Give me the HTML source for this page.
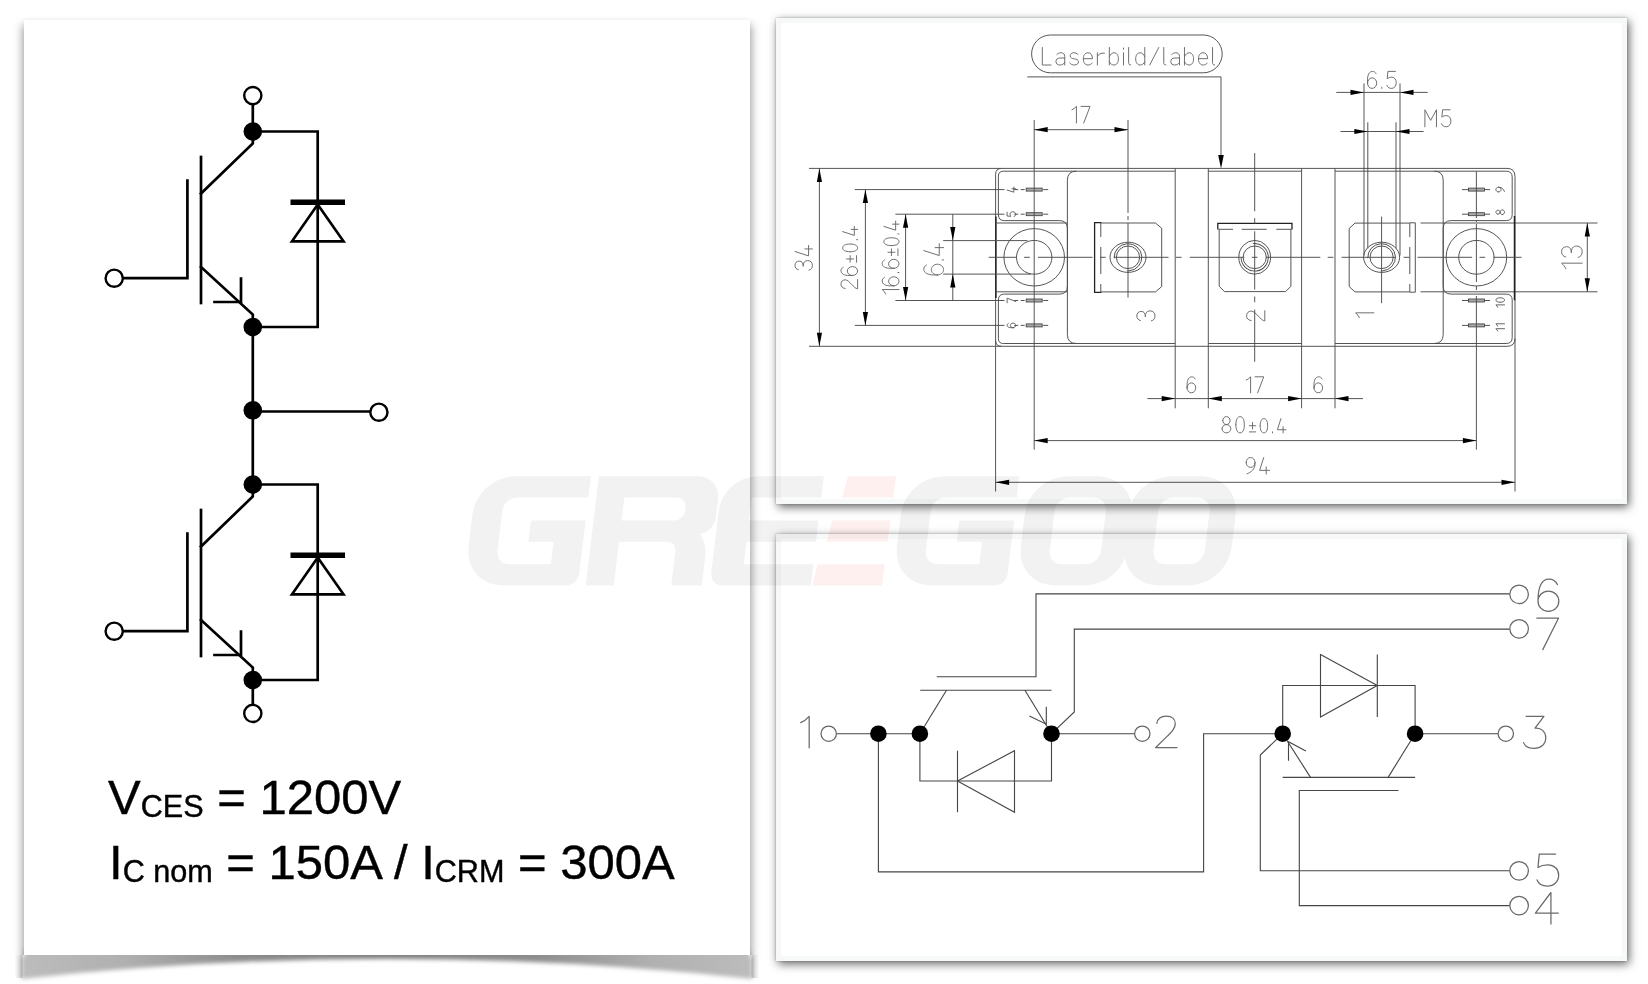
<!DOCTYPE html>
<html><head><meta charset="utf-8"><title>IGBT module</title>
<style>
html,body{margin:0;padding:0;background:#fff;}
body{width:1648px;height:984px;position:relative;overflow:hidden;font-family:"Liberation Sans",sans-serif;}
.p{position:absolute;background:#fff;box-sizing:border-box;}
#p1{left:24px;top:20px;width:726px;height:935px;box-shadow:0 6px 9px 1px rgba(0,0,0,.42);clip-path:inset(-3px -14px 0 -14px);}
#p2{left:776px;top:18px;width:851px;height:486px;border:5px solid #f7f8f8;box-shadow:2px 3px 9px rgba(0,0,0,.6),0 0 2px rgba(0,0,0,.25);}
#p3{left:776px;top:534px;width:851px;height:427px;border:5px solid #f7f8f8;box-shadow:2px 3px 9px rgba(0,0,0,.6),0 0 2px rgba(0,0,0,.25);}
svg{position:absolute;left:0;top:0;}
.k{fill:none;stroke:#000;stroke-width:2.7;stroke-linecap:square;stroke-linejoin:miter;}
.kb{fill:none;stroke:#000;stroke-width:5.6;stroke-linecap:butt;}
.ko{fill:#fff;stroke:#000;stroke-width:2.4;}
.dot{fill:#000;stroke:none;}
.l{fill:none;stroke:#4c4c4c;stroke-width:.95;}
.ld{fill:none;stroke:#222;stroke-width:1.5;}
.t{fill:none;stroke:#6c6c6c;stroke-width:.98;stroke-linecap:round;stroke-linejoin:round;}
.tb{fill:none;stroke:#6a6a6a;stroke-width:1.25;stroke-linecap:round;stroke-linejoin:round;}
.ts{fill:none;stroke:#555;stroke-width:.9;stroke-linecap:round;stroke-linejoin:round;}
.ah{fill:#000;stroke:none;}
.c{fill:none;stroke:#464646;stroke-width:1.12;}
.ct{fill:#fff;stroke:#666;stroke-width:1.25;}
.cd{fill:#000;stroke:none;}
.tx{position:absolute;color:#000;white-space:nowrap;line-height:1;-webkit-text-stroke:.42px #000;will-change:transform;}
.tx sub{vertical-align:baseline;position:relative;top:2.5px;font-size:30.6px;}
</style></head><body>
<svg width="1648" height="984" viewBox="0 0 1648 984">
<defs>
<filter id="b1" x="-5%" y="-50%" width="110%" height="200%"><feGaussianBlur stdDeviation="2"/></filter>
<linearGradient id="g1" x1="0" y1="0" x2="1" y2="0"><stop offset="0" stop-color="#bcbcbc"/><stop offset=".14" stop-color="#b0b0b0"/><stop offset=".3" stop-color="#8c8c8c"/><stop offset=".5" stop-color="#7c7c7c"/><stop offset=".7" stop-color="#8c8c8c"/><stop offset=".86" stop-color="#b0b0b0"/><stop offset="1" stop-color="#bcbcbc"/></linearGradient>
<linearGradient id="g2" x1="0" y1="0" x2="1" y2="0"><stop offset="0" stop-color="#000" stop-opacity="0"/><stop offset="1" stop-color="#000" stop-opacity=".2"/></linearGradient>
<linearGradient id="g3" x1="0" y1="0" x2="1" y2="0"><stop offset="0" stop-color="#000" stop-opacity=".2"/><stop offset="1" stop-color="#000" stop-opacity="0"/></linearGradient>
</defs>
<path d="M24.5,950 H749.5 V956.5 H752.5 V979 Q387,938.5 21.5,979 V956.5 H24.5 Z" fill="url(#g1)" filter="url(#b1)"/>
<rect x="14.5" y="955" width="8" height="23" fill="url(#g2)"/><rect x="751.5" y="955" width="8" height="23" fill="url(#g3)"/>
</svg>
<div class="p" id="p1"></div>
<div class="p" id="p2"></div>
<div class="p" id="p3"></div>
<div class="tx" style="left:108.3px;top:773px;font-size:49px;">V<sub>CES</sub> = 1200V</div>
<div class="tx" style="left:108.6px;top:837.6px;font-size:49px;">I<sub>C nom</sub> = 150A / I<sub>CRM</sub> = 300A</div>
<svg width="1648" height="984" viewBox="0 0 1648 984">
<g id="left">
<circle class="dot" cx="252.8" cy="131.5" r="9.3"/>
<path class="k" d="M252.8,131.5 H317.7 V327 H252.8"/>
<path class="kb" d="M290.5,202.3 H345"/>
<path class="k" d="M317.7,204.5 L343.5,241.3 H292 Z"/>
<path class="k" d="M201,157L201,303"/>
<path class="k" d="M187.4,180.5 V278.2 H123"/>
<circle class="ko" cx="114.2" cy="278.2" r="8.6"/>
<path class="k" d="M201,193.5 L252.8,143.5 V131.5"/>
<path class="k" d="M201,267 L252.8,314.5 V327"/>
<path class="k" d="M214.5,302 H241 V278.5"/>
<circle class="dot" cx="252.8" cy="327" r="9.3"/>
<circle class="dot" cx="252.8" cy="484.5" r="9.3"/>
<path class="k" d="M252.8,484.5 H317.7 V680 H252.8"/>
<path class="kb" d="M290.5,555.3 H345"/>
<path class="k" d="M317.7,557.5 L343.5,594.3 H292 Z"/>
<path class="k" d="M201,510L201,656"/>
<path class="k" d="M187.4,533.5 V631.2 H123"/>
<circle class="ko" cx="114.2" cy="631.2" r="8.6"/>
<path class="k" d="M201,546.5 L252.8,496.5 V484.5"/>
<path class="k" d="M201,620 L252.8,667.5 V680"/>
<path class="k" d="M214.5,655 H241 V631.5"/>
<circle class="dot" cx="252.8" cy="680" r="9.3"/>
<path class="k" d="M252.8,104L252.8,131.5"/>
<circle class="ko" cx="252.8" cy="95.6" r="8.6"/>
<path class="k" d="M252.8,327L252.8,484.5"/>
<circle class="dot" cx="252.8" cy="410.3" r="9.3"/>
<path class="k" d="M252.8,411.5L370,411.5"/>
<circle class="ko" cx="378.9" cy="412.2" r="8.6"/>
<path class="k" d="M252.8,680L252.8,705"/>
<circle class="ko" cx="252.8" cy="713.4" r="8.6"/>
</g>
<g id="tr">
<path class="l" d="M1001.6,168.4 H1507 Q1515,168.4 1515,176.4 V338.3 Q1515,346.3 1507,346.3 H1001.6 Q995.6,346.3 995.6,340.3 V174.4 Q995.6,168.4 1001.6,168.4 Z"/>
<path class="ld" d="M995.9,216.5L995.9,298"/>
<path class="l" d="M1175.2,171.2 H1003.4 Q998.4,171.2 998.4,176.2 V214.6 Q998.4,220.6 1004.4,220.6 H1059.4 Q1067.4,220.6 1067.4,228.6 V286.1 Q1067.4,294.1 1059.4,294.1 H1004.4 Q998.4,294.1 998.4,300.1 V338.5 Q998.4,343.5 1003.4,343.5 H1175.2"/>
<path class="l" d="M995.6,223L1067.4,223"/>
<path class="l" d="M995.6,291.8L1067.4,291.8"/>
<path class="l" d="M1076.4,171.2 Q1067.4,171.2 1067.4,180.2 V334.5 Q1067.4,343.5 1076.4,343.5"/>
<path class="l" d="M1335,171.2 H1506.2 Q1512.2,171.2 1512.2,177.2 V214.6 Q1512.2,220.6 1506.2,220.6 H1451.2 Q1443.2,220.6 1443.2,228.6 V286.1 Q1443.2,294.1 1451.2,294.1 H1506.2 Q1512.2,294.1 1512.2,300.1 V337.5 Q1512.2,343.5 1506.2,343.5 H1335"/>
<path class="l" d="M1420.5,223L1597.5,223"/>
<path class="l" d="M1420.5,291.8L1597.5,291.8"/>
<path class="ld" d="M1514.5,216L1514.5,300.3"/>
<path class="l" d="M1434.2,171.2 Q1443.2,171.2 1443.2,180.2 V334.5 Q1443.2,343.5 1434.2,343.5"/>
<path class="l" d="M1208.3,171.2L1301.6,171.2"/>
<path class="l" d="M1208.3,343.5L1301.6,343.5"/>
<path class="l" d="M1175.2,168.4L1175.2,408.3"/>
<path class="l" d="M1208.3,168.4L1208.3,408.3"/>
<path class="l" d="M1301.6,168.4L1301.6,408.3"/>
<path class="l" d="M1335,168.4L1335,408.3"/>
<ellipse class="l" cx="1034.2" cy="257.3" rx="30.3" ry="28.7"/>
<ellipse class="l" cx="1034.2" cy="257.3" rx="17.7" ry="16.9"/>
<ellipse class="l" cx="1476.4" cy="257.3" rx="30.3" ry="28.7"/>
<ellipse class="l" cx="1476.4" cy="257.3" rx="17.7" ry="16.9"/>
<path class="l" d="M1020.7,189.6L1024.7,189.6"/>
<path class="l" d="M1043.2,189.6L1048.2,189.6"/>
<path class="l" d="M1014.2,189.6L1018.2,189.6"/>
<rect x="1026.2" y="188.1" width="16" height="3" fill="#aaa" stroke="#3a3a3a" stroke-width=".8"/>
<path class="ts" d="M1007.1,190.03L1013.81,192.18L1013.81,187.02M1012,188.74L1015.7,188.74"/>
<path class="l" d="M1020.7,214.2L1024.7,214.2"/>
<path class="l" d="M1043.2,214.2L1048.2,214.2"/>
<path class="l" d="M1014.2,214.2L1018.2,214.2"/>
<rect x="1026.2" y="212.7" width="16" height="3" fill="#aaa" stroke="#3a3a3a" stroke-width=".8"/>
<path class="ts" d="M1007.1,212.22L1007.1,216.01L1010.8,216.35C1010.28,215.66 1010.02,214.97 1010.02,214.11C1010.02,212.74 1011.14,211.79 1012.78,211.79C1014.5,211.79 1015.7,212.74 1015.7,214.2C1015.7,215.4 1015.1,216.26 1014.15,216.52"/>
<path class="l" d="M1020.7,300.5L1024.7,300.5"/>
<path class="l" d="M1043.2,300.5L1048.2,300.5"/>
<path class="l" d="M1014.2,300.5L1018.2,300.5"/>
<rect x="1026.2" y="299" width="16" height="3" fill="#aaa" stroke="#3a3a3a" stroke-width=".8"/>
<path class="ts" d="M1007.1,302.82L1007.1,298.18L1015.7,301.45"/>
<path class="l" d="M1020.7,325.4L1024.7,325.4"/>
<path class="l" d="M1043.2,325.4L1048.2,325.4"/>
<path class="l" d="M1014.2,325.4L1018.2,325.4"/>
<rect x="1026.2" y="323.9" width="16" height="3" fill="#aaa" stroke="#3a3a3a" stroke-width=".8"/>
<path class="ts" d="M1008.22,323.42C1007.44,323.85 1007.1,324.45 1007.1,325.23C1007.1,326.86 1008.82,327.72 1011.4,327.72L1013.21,327.72M1013.03,327.72C1011.56,327.72 1010.37,326.68 1010.37,325.4C1010.37,324.12 1011.56,323.08 1013.03,323.08C1014.51,323.08 1015.7,324.12 1015.7,325.4C1015.7,326.68 1014.51,327.72 1013.03,327.72"/>
<path class="l" d="M1462,189.6L1490,189.6"/>
<rect x="1468.4" y="188.1" width="16" height="3" fill="#aaa" stroke="#3a3a3a" stroke-width=".8"/>
<path class="ts" d="M1504.41,191.41C1503.64,189.34 1501.92,187.28 1499.34,187.28L1498.48,187.28M1498.48,191.92C1497.06,191.92 1495.9,190.88 1495.9,189.6C1495.9,188.32 1497.06,187.28 1498.48,187.28C1499.9,187.28 1501.06,188.32 1501.06,189.6C1501.06,190.88 1499.9,191.92 1498.48,191.92"/>
<path class="l" d="M1462,214.2L1490,214.2"/>
<rect x="1468.4" y="212.7" width="16" height="3" fill="#aaa" stroke="#3a3a3a" stroke-width=".8"/>
<path class="ts" d="M1498.01,214.13C1496.84,214.13 1495.9,213.27 1495.9,212.2C1495.9,211.13 1496.84,210.26 1498.01,210.26C1499.17,210.26 1500.11,211.13 1500.11,212.2C1500.11,213.27 1499.17,214.13 1498.01,214.13M1502.31,214.52C1501.1,214.52 1500.11,213.48 1500.11,212.2C1500.11,210.92 1501.1,209.88 1502.31,209.88C1503.52,209.88 1504.5,210.92 1504.5,212.2C1504.5,213.48 1503.52,214.52 1502.31,214.52"/>
<path class="l" d="M1462,300.5L1490,300.5"/>
<rect x="1468.4" y="299" width="16" height="3" fill="#aaa" stroke="#3a3a3a" stroke-width=".8"/>
<path class="ts" d="M1497.71,307.19C1497.28,306.33 1496.59,305.47 1495.9,304.87L1504.5,304.87M1500.2,302.29C1497.19,302.29 1495.9,301.25 1495.9,300.05C1495.9,298.85 1497.19,297.81 1500.2,297.81C1503.21,297.81 1504.5,298.85 1504.5,300.05C1504.5,301.25 1503.21,302.29 1500.2,302.29"/>
<path class="l" d="M1462,325.4L1490,325.4"/>
<rect x="1468.4" y="323.9" width="16" height="3" fill="#aaa" stroke="#3a3a3a" stroke-width=".8"/>
<path class="ts" d="M1497.71,331.01C1497.28,330.15 1496.59,329.29 1495.9,328.69L1504.5,328.69M1497.71,326.11C1497.28,325.25 1496.59,324.39 1495.9,323.79L1504.5,323.79"/>
<path class="l" d="M1101.2,223 H1155.5 L1161.7,228.3 V286.6 L1155.5,291.9 H1101.2"/>
<path class="ld" d="M1101.4,222.6 H1094.6 V292.4 H1101.4" style="stroke-width:1.3"/>
<path class="l" d="M1100.8,223L1100.8,292" stroke-dasharray="14 10 27 10 14"/>
<ellipse class="l" cx="1128" cy="257.3" rx="18" ry="15.1"/>
<ellipse class="l" cx="1128" cy="257.3" rx="13.8" ry="13.6" stroke-dasharray="66 20.4" transform="rotate(176 1128 257.3)"/>
<ellipse class="l" cx="1128" cy="257.3" rx="11.6" ry="11.3"/>
<path class="l" d="M1219.2,229.3 V286.3 L1224.5,291.6 H1285.6 L1290.9,286.3 V229.3"/>
<path class="ld" d="M1217.8,229.6 V223.3 H1292 V229.6" style="stroke-width:1.3"/>
<path class="l" d="M1218.5,229.3L1291.5,229.3" stroke-dasharray="14.5 8.7 25 9.6 15.2"/>
<ellipse class="l" cx="1254.7" cy="257.3" rx="15.9" ry="16.9"/>
<ellipse class="l" cx="1254.7" cy="257.3" rx="13.8" ry="13.6" stroke-dasharray="66 20.4" transform="rotate(262 1254.7 257.3)"/>
<ellipse class="l" cx="1254.7" cy="257.3" rx="11.6" ry="11.3"/>
<path class="l" d="M1409.6,223.1 H1355 L1349.2,228.4 V286.6 L1355,291.9 H1409.6"/>
<path class="l" d="M1409.6,222.8 H1415.3 V292.2 H1409.6"/>
<path class="l" d="M1409.8,223L1409.8,292" stroke-dasharray="14 10 27 10 14"/>
<ellipse class="l" cx="1381.6" cy="257.3" rx="18" ry="15.1"/>
<ellipse class="l" cx="1381.6" cy="257.3" rx="13.8" ry="13.6" stroke-dasharray="66 20.4" transform="rotate(176 1381.6 257.3)"/>
<ellipse class="l" cx="1381.6" cy="257.3" rx="11.6" ry="11.3"/>
<path class="t" d="M1140.44,320.55C1138.07,320 1136.8,318.37 1136.8,316C1136.8,313.27 1138.44,311.45 1141.17,311.45C1144.08,311.45 1145.35,313.27 1145.35,316.91C1145.35,312.91 1146.99,310.9 1150.09,310.9C1153.18,310.9 1155,312.91 1155,316C1155,318.55 1153.73,320.37 1151.36,320.91"/>
<path class="t" d="M1251.15,320.55C1248.06,320.19 1246.6,318.37 1246.6,315.82C1246.6,312.91 1248.42,311.09 1251.33,311.09C1255.7,311.09 1260.8,320.91 1264.8,320.91L1264.8,310.72"/>
<path class="t" d="M1359.42,317.76C1358.51,315.94 1357.06,314.12 1355.6,312.84L1373.8,312.84"/>
<path class="l" d="M988.7,257.3L1521.5,257.3" stroke-dasharray="54.6 7.4 5.7 8.2" stroke-dashoffset="26.6"/>
<path class="l" d="M1128,120L1128,297.6" stroke-dasharray="93 3 4 3 200"/>
<path class="l" d="M1254.7,153L1254.7,361.8" stroke-dasharray="58.3 6.9 5.7 7.4"/>
<path class="l" d="M1381.6,216.6L1381.6,303.2"/>
<path class="l" d="M1034.2,120L1034.2,449.7"/>
<path class="l" d="M1476.4,171.2L1476.4,346" stroke-dasharray="46.8 2 2 2 58 4 4 6 200"/>
<path class="l" d="M1476.4,346L1476.4,449.7"/>
<path class="l" d="M809,168.4L1001.6,168.4"/>
<path class="l" d="M809,346.3L1001.6,346.3"/>
<path class="l" d="M819.4,168.4L819.4,346.3"/>
<path class="ah" d="M819.4,168.4L822,181.9L816.8,181.9Z"/>
<path class="ah" d="M819.4,346.3L816.8,332.8L822,332.8Z"/>
<path class="t" d="M798.48,269.81C796.22,269.28 795,267.72 795,265.46C795,262.85 796.57,261.11 799.18,261.11C801.96,261.11 803.18,262.85 803.18,266.33C803.18,262.5 804.74,260.58 807.7,260.58C810.66,260.58 812.4,262.5 812.4,265.46C812.4,267.89 811.18,269.63 808.92,270.15M795,251.54L808.57,255.89L808.57,245.45M804.92,248.93L812.4,248.93"/>
<path class="l" d="M854.8,189.6L1004.5,189.6"/>
<path class="l" d="M854.8,325.4L1004.5,325.4"/>
<path class="l" d="M865.4,189.6L865.4,325.4"/>
<path class="ah" d="M865.4,189.6L868,203.1L862.8,203.1Z"/>
<path class="ah" d="M865.4,325.4L862.8,311.9L868,311.9Z"/>
<path class="t" d="M845.15,288.48C842.33,288.14 841,286.48 841,284.16C841,281.5 842.66,279.84 845.32,279.84C849.3,279.84 853.95,288.81 857.6,288.81L857.6,279.51M843.16,267.23C841.66,268.06 841,269.22 841,270.71C841,273.87 844.32,275.53 849.3,275.53L852.79,275.53M852.45,275.53C849.61,275.53 847.31,273.52 847.31,271.05C847.31,268.57 849.61,266.56 852.45,266.56C855.3,266.56 857.6,268.57 857.6,271.05C857.6,273.52 855.3,275.53 852.45,275.53M850.13,262.25L850.13,255.67M846.69,258.96L853.57,258.96M856.55,262.25L856.55,255.67M850.13,251.79C844.9,251.79 842.66,250 842.66,247.91C842.66,245.81 844.9,244.02 850.13,244.02C855.36,244.02 857.6,245.81 857.6,247.91C857.6,250 855.36,251.79 850.13,251.79M856.55,239.69L857.6,239.69M842.66,231.62L854.31,235.36L854.31,226.39M851.18,229.38L857.6,229.38"/>
<path class="l" d="M895.4,214.2L1004.5,214.2"/>
<path class="l" d="M895.4,300.5L1004.5,300.5"/>
<path class="l" d="M905.6,214.2L905.6,300.5"/>
<path class="ah" d="M905.6,214.2L908.2,227.7L903,227.7Z"/>
<path class="ah" d="M905.6,300.5L903,287L908.2,287Z"/>
<path class="t" d="M885.73,294.07C884.89,292.39 883.54,290.71 882.2,289.54L899,289.54M884.38,277.44C882.87,278.28 882.2,279.46 882.2,280.97C882.2,284.16 885.56,285.84 890.6,285.84L894.13,285.84M893.79,285.84C890.92,285.84 888.58,283.81 888.58,281.3C888.58,278.8 890.92,276.77 893.79,276.77C896.67,276.77 899,278.8 899,281.3C899,283.81 896.67,285.84 893.79,285.84M897.82,272.57L899,272.57M884.38,259.97C882.87,260.81 882.2,261.98 882.2,263.5C882.2,266.69 885.56,268.37 890.6,268.37L894.13,268.37M893.79,268.37C890.92,268.37 888.58,266.34 888.58,263.83C888.58,261.33 890.92,259.3 893.79,259.3C896.67,259.3 899,261.33 899,263.83C899,266.34 896.67,268.37 893.79,268.37M891.44,255.6L891.44,248.95M887.96,252.27L894.92,252.27M897.94,255.6L897.94,248.95M891.44,245.62C886.15,245.62 883.88,243.81 883.88,241.69C883.88,239.57 886.15,237.76 891.44,237.76C896.73,237.76 899,239.57 899,241.69C899,243.81 896.73,245.62 891.44,245.62M897.94,233.98L899,233.98M883.88,226.42L895.67,230.2L895.67,221.13M892.5,224.15L899,224.15"/>
<path class="l" d="M943.2,240.6L1027.5,240.6"/>
<path class="l" d="M943.2,274.1L1031,274.1"/>
<path class="l" d="M952.8,214.2L952.8,300.5"/>
<path class="ah" d="M952.8,240.6L950.2,227.1L955.4,227.1Z"/>
<path class="ah" d="M952.8,274.1L955.4,287.6L950.2,287.6Z"/>
<path class="t" d="M926.37,265.04C924.59,266.03 923.8,267.42 923.8,269.2C923.8,272.96 927.76,274.94 933.7,274.94L937.86,274.94M937.46,274.94C934.07,274.94 931.32,272.55 931.32,269.6C931.32,266.64 934.07,264.25 937.46,264.25C940.85,264.25 943.6,266.64 943.6,269.6C943.6,272.55 940.85,274.94 937.46,274.94M942.21,259.89L943.6,259.89M923.8,250.59L939.24,255.54L939.24,243.66M935.09,247.62L943.6,247.62"/>
<path class="l" d="M1587.3,223L1587.3,291.8"/>
<path class="ah" d="M1587.3,223L1589.9,236.5L1584.7,236.5Z"/>
<path class="ah" d="M1587.3,291.8L1584.7,278.3L1589.9,278.3Z"/>
<path class="t" d="M1565.93,268.73C1564.9,266.67 1563.25,264.61 1561.6,263.17L1582.2,263.17M1565.72,256.99C1563.04,256.37 1561.6,254.51 1561.6,251.84C1561.6,248.75 1563.45,246.69 1566.54,246.69C1569.84,246.69 1571.28,248.75 1571.28,252.87C1571.28,248.33 1573.14,246.07 1576.64,246.07C1580.14,246.07 1582.2,248.33 1582.2,251.84C1582.2,254.72 1580.76,256.78 1578.08,257.4"/>
<path class="l" d="M1034.2,129.7L1128,129.7"/>
<path class="ah" d="M1034.2,129.7L1047.7,127.1L1047.7,132.3Z"/>
<path class="ah" d="M1128,129.7L1114.5,132.3L1114.5,127.1Z"/>
<path class="t" d="M1071.95,109.89C1073.61,109.06 1075.27,107.73 1076.43,106.4L1076.43,123M1081.08,106.4L1090.05,106.4L1083.74,123"/>
<rect class="l" x="1031.6" y="35" width="190.6" height="37.8" rx="18.9" ry="18.9"/>
<path class="t" d="M1042.3,47.5L1042.3,65L1051.05,65M1056.86,54.5C1058.09,53.28 1059.48,52.75 1060.88,52.75C1063.34,52.75 1064.73,54.15 1064.73,56.6L1064.73,65M1064.73,58L1060.18,58C1057.38,58 1055.98,59.4 1055.98,61.5C1055.98,63.77 1057.56,65 1059.84,65C1061.93,65 1063.68,64.12 1064.73,62.55M1077.89,54.5C1076.67,53.28 1075.44,52.75 1074.04,52.75C1071.42,52.75 1070.19,54.15 1070.19,55.73C1070.19,60.45 1078.42,57.3 1078.42,61.85C1078.42,63.77 1076.67,65 1074.22,65C1072.29,65 1070.72,64.3 1069.67,62.9M1083.36,58.7L1092.45,58.7C1092.45,54.85 1090.7,52.75 1087.9,52.75C1085.11,52.75 1083.36,55.02 1083.36,58.88C1083.36,62.73 1085.11,65 1088.08,65C1089.83,65 1091.23,64.3 1092.11,63.08M1097.39,52.75L1097.39,65M1097.39,56.6C1098.44,54.15 1100.54,52.75 1104.39,53.1M1109.33,47.5L1109.33,65M1109.33,56.6C1110.38,54.15 1112.12,52.75 1114.05,52.75C1116.67,52.75 1118.42,55.2 1118.42,58.88C1118.42,62.55 1116.67,65 1114.05,65C1112.12,65 1110.38,63.95 1109.33,61.85M1123.53,52.75L1123.53,65M1123.53,48.03L1123.53,49.25M1128.64,47.5L1128.64,62.55C1128.64,64.3 1129.35,65 1130.74,65M1144.78,47.5L1144.78,65M1144.78,56.6C1143.73,54.15 1141.98,52.75 1140.05,52.75C1137.43,52.75 1135.68,55.2 1135.68,58.88C1135.68,62.55 1137.43,65 1140.05,65C1141.98,65 1143.73,63.95 1144.78,61.85M1149.71,65L1158.81,47.5M1163.75,47.5L1163.75,62.55C1163.75,64.3 1164.45,65 1165.85,65M1171.66,54.5C1172.88,53.28 1174.28,52.75 1175.68,52.75C1178.13,52.75 1179.53,54.15 1179.53,56.6L1179.53,65M1179.53,58L1174.98,58C1172.18,58 1170.78,59.4 1170.78,61.5C1170.78,63.77 1172.36,65 1174.63,65C1176.73,65 1178.48,64.12 1179.53,62.55M1184.47,47.5L1184.47,65M1184.47,56.6C1185.52,54.15 1187.27,52.75 1189.19,52.75C1191.82,52.75 1193.57,55.2 1193.57,58.88C1193.57,62.55 1191.82,65 1189.19,65C1187.27,65 1185.52,63.95 1184.47,61.85M1198.5,58.7L1207.61,58.7C1207.61,54.85 1205.86,52.75 1203.05,52.75C1200.25,52.75 1198.5,55.02 1198.5,58.88C1198.5,62.73 1200.25,65 1203.23,65C1204.98,65 1206.38,64.3 1207.25,63.08M1212.54,47.5L1212.54,62.55C1212.54,64.3 1213.24,65 1214.64,65"/>
<path class="l" d="M1027.3,76.9 H1221 V160"/>
<path class="ah" d="M1221,168.4L1218.2,154.9L1223.8,154.9Z"/>
<path class="l" d="M1364,83.4L1364,255.5"/>
<path class="l" d="M1400,83.4L1400,255.5"/>
<path class="l" d="M1367.8,122.3L1367.8,248.5"/>
<path class="l" d="M1396,122.3L1396,248.5"/>
<path class="l" d="M1336.3,92.4L1427.7,92.4"/>
<path class="ah" d="M1364,92.4L1350.5,95L1350.5,89.8Z"/>
<path class="ah" d="M1400,92.4L1413.5,89.8L1413.5,95Z"/>
<path class="l" d="M1340.5,131.5L1423.5,131.5"/>
<path class="ah" d="M1367.8,131.5L1354.3,134.1L1354.3,128.9Z"/>
<path class="ah" d="M1396,131.5L1409.5,128.9L1409.5,134.1Z"/>
<path class="t" d="M1376.02,73.61C1375.17,72.08 1373.98,71.4 1372.45,71.4C1369.22,71.4 1367.52,74.8 1367.52,79.9L1367.52,83.47M1367.52,83.13C1367.52,80.22 1369.57,77.86 1372.11,77.86C1374.65,77.86 1376.7,80.22 1376.7,83.13C1376.7,86.04 1374.65,88.4 1372.11,88.4C1369.57,88.4 1367.52,86.04 1367.52,83.13M1381.8,87.21L1381.8,88.4M1395.4,71.4L1387.92,71.4L1387.24,78.71C1388.6,77.69 1389.96,77.18 1391.66,77.18C1394.38,77.18 1396.25,79.39 1396.25,82.62C1396.25,86.02 1394.38,88.4 1391.49,88.4C1389.11,88.4 1387.41,87.21 1386.9,85.34"/>
<path class="t" d="M1424.9,126.8L1424.9,109.8L1430.68,120.34L1436.46,109.8L1436.46,126.8M1450.06,109.8L1442.58,109.8L1441.9,117.11C1443.26,116.09 1444.62,115.58 1446.32,115.58C1449.04,115.58 1450.91,117.79 1450.91,121.02C1450.91,124.42 1449.04,126.8 1446.15,126.8C1443.77,126.8 1442.07,125.61 1441.56,123.74"/>
<path class="l" d="M1147.4,398.6L1363,398.6"/>
<path class="ah" d="M1175.2,398.6L1161.7,401.2L1161.7,396Z"/>
<path class="ah" d="M1208.3,398.6L1221.8,396L1221.8,401.2Z"/>
<path class="ah" d="M1301.6,398.6L1288.1,401.2L1288.1,396Z"/>
<path class="ah" d="M1335,398.6L1348.5,396L1348.5,401.2Z"/>
<path class="t" d="M1195.08,378.88C1194.28,377.44 1193.16,376.8 1191.72,376.8C1188.68,376.8 1187.08,380 1187.08,384.8L1187.08,388.16M1187.08,387.84C1187.08,385.1 1189.01,382.88 1191.4,382.88C1193.79,382.88 1195.72,385.1 1195.72,387.84C1195.72,390.58 1193.79,392.8 1191.4,392.8C1189.01,392.8 1187.08,390.58 1187.08,387.84"/>
<path class="t" d="M1246.28,380.16C1247.88,379.36 1249.48,378.08 1250.6,376.8L1250.6,392.8M1255.08,376.8L1263.72,376.8L1257.64,392.8"/>
<path class="t" d="M1321.98,378.88C1321.18,377.44 1320.06,376.8 1318.62,376.8C1315.58,376.8 1313.98,380 1313.98,384.8L1313.98,388.16M1313.98,387.84C1313.98,385.1 1315.91,382.88 1318.3,382.88C1320.69,382.88 1322.62,385.1 1322.62,387.84C1322.62,390.58 1320.69,392.8 1318.3,392.8C1315.91,392.8 1313.98,390.58 1313.98,387.84"/>
<path class="l" d="M1034.2,440.6L1476.4,440.6"/>
<path class="ah" d="M1034.2,440.6L1047.7,438L1047.7,443.2Z"/>
<path class="ah" d="M1476.4,440.6L1462.9,443.2L1462.9,438Z"/>
<path class="t" d="M1222.75,420.59C1222.75,418.39 1224.39,416.6 1226.42,416.6C1228.45,416.6 1230.09,418.39 1230.09,420.59C1230.09,422.8 1228.45,424.59 1226.42,424.59C1224.39,424.59 1222.75,422.8 1222.75,420.59M1222.02,428.74C1222.02,426.45 1223.99,424.59 1226.42,424.59C1228.85,424.59 1230.82,426.45 1230.82,428.74C1230.82,431.04 1228.85,432.9 1226.42,432.9C1223.99,432.9 1222.02,431.04 1222.02,428.74M1235.87,424.75C1235.87,419.04 1237.83,416.6 1240.11,416.6C1242.39,416.6 1244.35,419.04 1244.35,424.75C1244.35,430.45 1242.39,432.9 1240.11,432.9C1237.83,432.9 1235.87,430.45 1235.87,424.75M1249.4,425.73L1255.71,425.73M1252.56,422.43L1252.56,429.03M1249.4,431.9L1255.71,431.9M1260.16,425.73C1260.16,420.71 1261.88,418.56 1263.89,418.56C1265.9,418.56 1267.62,420.71 1267.62,425.73C1267.62,430.75 1265.9,432.9 1263.89,432.9C1261.88,432.9 1260.16,430.75 1260.16,425.73M1272.5,431.9L1272.5,432.9M1280.96,418.56L1277.37,429.74L1285.98,429.74M1283.11,426.73L1283.11,432.9"/>
<path class="l" d="M995.6,340.3L995.6,491.5"/>
<path class="l" d="M1515,338.3L1515,491.5"/>
<path class="l" d="M995.6,482.3L1515,482.3"/>
<path class="ah" d="M995.6,482.3L1009.1,479.7L1009.1,484.9Z"/>
<path class="ah" d="M1515,482.3L1501.5,484.9L1501.5,479.7Z"/>
<path class="t" d="M1247.08,473.83C1251.03,472.35 1254.99,469.05 1254.99,464.1L1254.99,462.45M1246.09,462.45C1246.09,459.72 1248.08,457.5 1250.54,457.5C1253,457.5 1254.99,459.72 1254.99,462.45C1254.99,465.18 1253,467.4 1250.54,467.4C1248.08,467.4 1246.09,465.18 1246.09,462.45M1263.74,457.5L1259.62,470.37L1269.51,470.37M1266.21,466.9L1266.21,474"/>
</g>
<g id="br">
<path class="c" d="M836.6,733.7L919.9,733.7"/>
<path class="c" d="M1051.5,733.7L1134.5,733.7"/>
<path class="c" d="M878.4,733.7 V871.9 H1203.6 V733.7 H1282.7"/>
<path class="c" d="M919.9,733.7 V781 H1051.5 V733.7"/>
<path class="c" d="M957.5,750.7 V812.2"/>
<path class="c" d="M957.5,781 L1014.5,750.7 V812.2 Z"/>
<path class="c" d="M920.2,690.2L1051.5,690.2"/>
<path class="c" d="M936.8,676.8 H1036 V593.9 H1509.7"/>
<path class="c" d="M919.9,733.7L946.5,690.2"/>
<path class="c" d="M1024.9,690.2L1051.5,733.7"/>
<path class="c" d="M1029.4,716.1 L1046.3,724.2 L1046.3,706.8"/>
<path class="c" d="M1051.5,733.7 L1074.3,712 V629.1 H1509.7"/>
<path class="c" d="M1415.1,733.7L1498.2,733.7"/>
<path class="c" d="M1282.7,733.7 V685.5 H1415.1 V733.7"/>
<path class="c" d="M1377.3,654.6 V717.1"/>
<path class="c" d="M1320.5,654.6 L1377.3,685.5 L1320.5,717.1 Z"/>
<path class="c" d="M1282.7,777.4L1415.1,777.4"/>
<path class="c" d="M1398.5,790.5 H1299.3 V905.6 H1509.7"/>
<path class="c" d="M1415.1,733.7L1388.1,777.4"/>
<path class="c" d="M1310.5,777.4L1282.7,733.7"/>
<path class="c" d="M1305.8,751.1 L1288.5,741.7 L1288.5,760.8"/>
<path class="c" d="M1282.7,733.7 L1260.3,755 V870.8 H1509.7"/>
<circle class="cd" cx="878.4" cy="733.7" r="8.3"/>
<circle class="cd" cx="919.9" cy="733.7" r="8.3"/>
<circle class="cd" cx="1051.5" cy="733.7" r="8.3"/>
<circle class="cd" cx="1282.7" cy="733.7" r="8.3"/>
<circle class="cd" cx="1415.1" cy="733.7" r="8.3"/>
<circle class="ct" cx="828.7" cy="733.7" r="7.7"/>
<circle class="ct" cx="1142.3" cy="733.7" r="7.7"/>
<circle class="ct" cx="1505.8" cy="733.7" r="7.7"/>
<circle class="ct" cx="1519.1" cy="594.3" r="9.3"/>
<circle class="ct" cx="1519.1" cy="628.8" r="9.3"/>
<circle class="ct" cx="1519.1" cy="870.8" r="9.3"/>
<circle class="ct" cx="1519.1" cy="905.6" r="9.3"/>
<path class="tb" d="M800.7,722.68C803.84,721.42 806.98,718.91 809.18,716.4L809.18,747.8"/>
<path class="tb" d="M1156.83,723.46C1157.58,718.7 1161.33,716.2 1166.34,716.2C1171.98,716.2 1175.26,719.33 1175.26,723.71C1175.26,728.72 1171.35,732.48 1167.59,735.92L1155.7,747.5L1176.98,747.5"/>
<path class="tb" d="M1526.16,716.4L1543.89,716.4L1534.99,728.11C1541.2,727.28 1545.78,731.76 1545.78,737.84C1545.78,744.24 1540.88,748.4 1534.16,748.4C1528.4,748.4 1524.88,745.84 1523.6,742.64"/>
<path class="tb" d="M1557.38,584.59C1555.77,581.04 1552.86,579.1 1548.98,579.1C1541.88,579.1 1538,587.17 1538,601.23M1538,601.23C1538,595.61 1542.66,591.05 1548.42,591.05C1554.17,591.05 1558.83,595.61 1558.83,601.23C1558.83,606.84 1554.17,611.4 1548.42,611.4C1542.66,611.4 1538,606.84 1538,601.23"/>
<path class="tb" d="M1536.8,618L1558.6,618L1542.8,649.6"/>
<path class="tb" d="M1555.6,854.1L1539.27,854.1L1537.96,867.5C1540.93,865.58 1544.12,864.95 1547.63,864.95C1554.33,864.95 1558.66,869.09 1558.66,875.15C1558.66,881.53 1554.01,886 1547.31,886C1541.88,886 1538.38,883.45 1537.1,879.94"/>
<path class="tb" d="M1550.93,924L1550.93,892.5L1535.4,913.2L1558.27,913.2"/>
</g>
<g id="wm">
<g opacity=".052">
<path d="M40,0 H114 V21.2 H43.5C35.38,21.2 29.5,27.08 29.5,35.2V74.1C29.5,82.22 35.38,88.1 43.5,88.1H84.5 V65.6 H59.28 V44.2 H114 V97.3C114,104.3 109,109.3 102,109.3H40C16.8,109.3 0,92.5 0,69.3V40C0,16.8 16.8,0 40,0 Z" fill="#000" fill-rule="evenodd" transform="translate(463.3 476.2) matrix(1 0 -0.12 1 13.66 0)"/>
<path d="M0,0 H98C112.4,0 122,9.6 122,24V38.6C122,49.6 118,55.6 108,57.6C113,63.6 116,71.6 116,79.6V109.3 H85.5 V75.6C85.5,68.6 81.5,65.6 74.5,65.6H28 V109.3 H0 Z M28,21.2C28,21.2 28,21.2 28,21.2V44.2C28,44.2 28,44.2 28,44.2H80.5C86.3,44.2 90.5,40 90.5,34.2V31.2C90.5,25.4 86.3,21.2 80.5,21.2Z" fill="#000" fill-rule="evenodd" transform="translate(585.2 476.2) matrix(1 0 -0.12 1 13.66 0)"/>
<path d="M36,0 H101 V21.2 H31.5 V44.2 H101 V65.6 H31.5 V88.1 H101 V109.3 H14C5,109.3 0,104.3 0,95.3V36C0,15.12 15.12,0 36,0 Z" fill="#000" fill-rule="evenodd" transform="translate(709.2 476.2) matrix(1 0 -0.12 1 13.66 0)"/>
<path d="M40,0 H114 V21.2 H43.5C35.38,21.2 29.5,27.08 29.5,35.2V74.1C29.5,82.22 35.38,88.1 43.5,88.1H84.5 V65.6 H59.28 V44.2 H114 V97.3C114,104.3 109,109.3 102,109.3H40C16.8,109.3 0,92.5 0,69.3V40C0,16.8 16.8,0 40,0 Z" fill="#000" fill-rule="evenodd" transform="translate(891.7 476.2) matrix(1 0 -0.12 1 13.66 0)"/>
<path d="M40,0H67.3C90.5,0 107.3,16.8 107.3,40V69.3C107.3,92.5 90.5,109.3 67.3,109.3H40C16.8,109.3 0,92.5 0,69.3V40C0,16.8 16.8,0 40,0ZM43.5,21.2C35.38,21.2 29.5,27.08 29.5,35.2V74.1C29.5,82.22 35.38,88.1 43.5,88.1H66.8C74.92,88.1 80.8,82.22 80.8,74.1V35.2C80.8,27.08 74.92,21.2 66.8,21.2Z" fill="#000" fill-rule="evenodd" transform="translate(1015.6 476.2) matrix(1 0 -0.12 1 13.66 0)"/>
<path d="M40,0H67.3C90.5,0 107.3,16.8 107.3,40V69.3C107.3,92.5 90.5,109.3 67.3,109.3H40C16.8,109.3 0,92.5 0,69.3V40C0,16.8 16.8,0 40,0ZM43.5,21.2C35.38,21.2 29.5,27.08 29.5,35.2V74.1C29.5,82.22 35.38,88.1 43.5,88.1H66.8C74.92,88.1 80.8,82.22 80.8,74.1V35.2C80.8,27.08 74.92,21.2 66.8,21.2Z" fill="#000" fill-rule="evenodd" transform="translate(1119.3 476.2) matrix(1 0 -0.12 1 13.66 0)"/>
</g>
<path d="M848,476.2 L895.99,476.2 L893.28,497.4 L842,497.4 Z" fill="rgba(235,45,30,0.072)"/>
<path d="M832.1,520.4 L890.33,520.4 L887.59,541.8 L826.8,541.8 Z" fill="rgba(235,45,30,0.072)"/>
<path d="M817.6,564.3 L884.71,564.3 L882,585.5 L812.3,585.5 Z" fill="rgba(235,45,30,0.072)"/>
</g>
</svg>
</body></html>
